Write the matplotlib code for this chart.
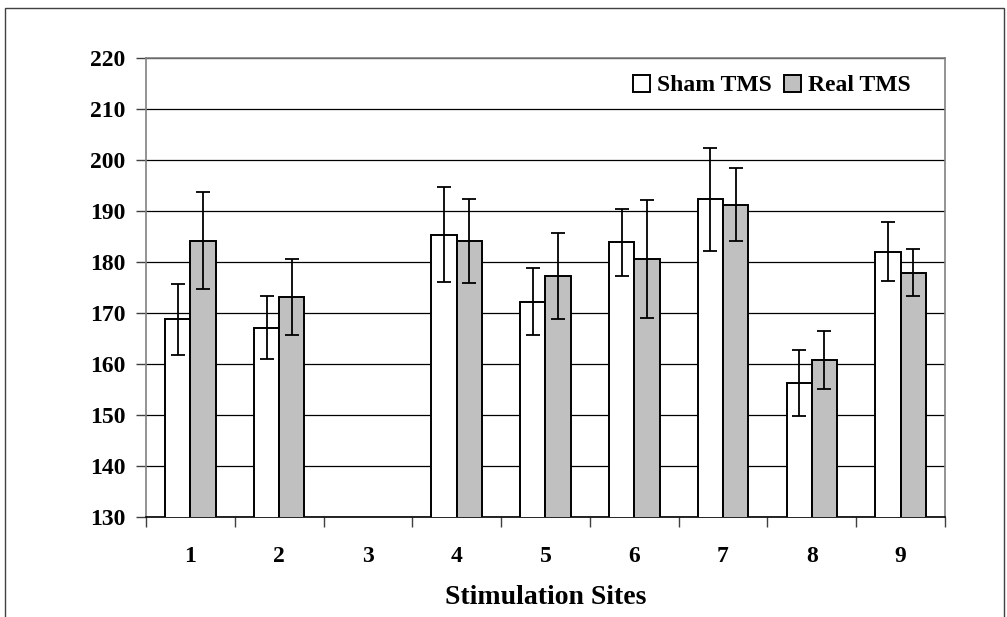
import numpy as np
import matplotlib
matplotlib.use("Agg")
import matplotlib.pyplot as plt
from matplotlib.patches import Rectangle

# Stimulation sites and mean values (site 3 has no data)
sites = ["1", "2", "3", "4", "5", "6", "7", "8", "9"]
sham_mean = [168.7, 167.1, np.nan, 185.3, 172.2, 183.8, 192.2, 156.2, 182.0]
sham_err = [7.0, 6.1, np.nan, 9.3, 6.5, 6.6, 10.1, 6.5, 5.8]
real_mean = [184.1, 173.1, np.nan, 184.0, 177.2, 180.5, 191.2, 160.7, 177.8]
real_err = [9.5, 7.5, np.nan, 8.2, 8.5, 11.6, 7.2, 5.7, 4.6]
y_ticks = [130, 140, 150, 160, 170, 180, 190, 200, 210, 220]

plt.rcParams["font.family"] = ["Liberation Serif", "DejaVu Serif"]
plt.rcParams["font.weight"] = "bold"

fig = plt.figure(figsize=(10.07, 6.17), dpi=100)
ax = fig.add_axes([0.145, 0.162, 0.7934, 0.7448])

# outer chart frame
fig.patches.append(Rectangle((5 / 1007, -0.05), 999 / 1007, (617 - 8) / 617 + 0.05,
                             transform=fig.transFigure, fill=False,
                             edgecolor="#404040", linewidth=1.0))

x = np.arange(1, len(sites) + 1)
w = 0.285

ax.bar(x - w / 2, sham_mean, w, bottom=0, color="white", edgecolor="black",
       linewidth=1.4, label="Sham TMS", zorder=3)
ax.bar(x + w / 2, real_mean, w, bottom=0, color="#c0c0c0", edgecolor="black",
       linewidth=1.4, label="Real TMS", zorder=3)
ax.errorbar(x - w / 2, sham_mean, yerr=sham_err, fmt="none", ecolor="black",
            elinewidth=1.3, capsize=5, capthick=1.3, zorder=4)
ax.errorbar(x + w / 2, real_mean, yerr=real_err, fmt="none", ecolor="black",
            elinewidth=1.3, capsize=5, capthick=1.3, zorder=4)

ax.set_xlim(0.5, len(sites) + 0.5)
ax.set_ylim(130, 220)
ax.set_yticks(y_ticks)
ax.set_yticklabels([str(v) for v in y_ticks], fontsize=17, fontweight="bold")
ax.yaxis.grid(True, color="black", linewidth=0.9, zorder=0)
ax.set_axisbelow(True)

# category boundaries as tick marks, labels centred in each category
ax.set_xticks(np.arange(0.5, len(sites) + 1, 1.0))
ax.set_xticklabels([])
ax.set_xticks(x, minor=True)
ax.set_xticklabels(sites, minor=True, fontsize=17, fontweight="bold")
ax.tick_params(axis="x", which="major", direction="out", length=7, width=1,
               color="#404040")
ax.tick_params(axis="x", which="minor", length=0, pad=21)
ax.tick_params(axis="y", direction="out", length=7, width=1, color="#404040",
               pad=8)

for side in ["top", "right", "left"]:
    ax.spines[side].set_color("#808080")
    ax.spines[side].set_linewidth(1.2)
ax.spines["bottom"].set_color("black")
ax.spines["bottom"].set_linewidth(1.2)

ax.set_xlabel("Stimulation Sites", fontsize=20, fontweight="bold", labelpad=13)

ax.legend(loc="center right", bbox_to_anchor=(0.957, 0.939), ncol=2,
          frameon=False, prop={"size": 17, "weight": "bold"},
          handlelength=0.72, handleheight=0.72, handletextpad=0.3,
          columnspacing=0.5, borderpad=0, borderaxespad=0)

fig.savefig("out.png", dpi=100)
